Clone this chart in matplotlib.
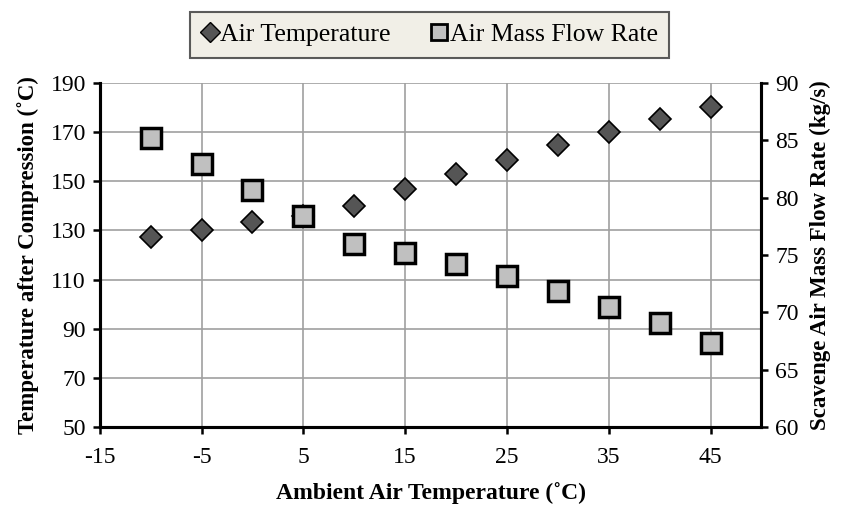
import matplotlib.pyplot as plt
from matplotlib.lines import Line2D

plt.rcParams['font.family'] = ['Liberation Serif', 'DejaVu Serif']
plt.rcParams['axes.unicode_minus'] = False

# ambient air temperature (°C)
ambient = [-10, -5, 0, 5, 10, 15, 20, 25, 30, 35, 40, 45]
# temperature after compression (°C), left axis
air_temp = [127.3, 130.1, 133.4, 135.9, 140.0, 146.8, 152.9, 158.8, 164.6, 170.0, 175.2, 180.0]
# scavenge air mass flow rate (kg/s), right axis
mass_flow = [85.2, 82.9, 80.7, 78.4, 76.0, 75.2, 74.2, 73.2, 71.9, 70.5, 69.1, 67.3]

x_ticks = [-15, -5, 5, 15, 25, 35, 45]
left_ticks = list(range(50, 191, 20))
right_ticks = list(range(60, 91, 5))

fig = plt.figure(figsize=(8.46, 5.05), dpi=100)
ax = fig.add_axes([0.118, 0.154, 0.782, 0.682])
ax2 = ax.twinx()

ax.set_xlim(-15, 50)
ax.set_ylim(50, 190)
ax2.set_ylim(60, 90)
ax.set_xticks(x_ticks)
ax.set_yticks(left_ticks)
ax2.set_yticks(right_ticks)

ax.grid(True, color='#a0a0a0', linewidth=1.2)
ax.set_axisbelow(True)

for a in (ax, ax2):
    a.spines['top'].set_visible(False)
    for s in ('left', 'right', 'bottom'):
        a.spines[s].set_linewidth(2.2)
        a.spines[s].set_color('black')
ax.tick_params(axis='both', direction='out', length=5, width=1.8, labelsize=17, pad=5)
ax.tick_params(axis='x', pad=9)
ax2.tick_params(axis='y', direction='out', length=5, width=1.8, labelsize=17, pad=5)

ax.plot(ambient, air_temp, linestyle='none', marker='D', markersize=11,
        markerfacecolor='#555555', markeredgecolor='black', markeredgewidth=1.2, zorder=3)
ax2.plot(ambient, mass_flow, linestyle='none', marker='s', markersize=15,
         markerfacecolor='#c0c0c0', markeredgecolor='black', markeredgewidth=2.5, zorder=3)

ax.set_xlabel('Ambient Air Temperature (˚C)', fontsize=17, fontweight='bold', labelpad=10)
ax.set_ylabel('Temperature after Compression (˚C)', fontsize=16.5, fontweight='bold', labelpad=8)
ax2.set_ylabel('Scavenge Air Mass Flow Rate (kg/s)', fontsize=16.5, fontweight='bold', labelpad=8)

handles = [
    Line2D([], [], linestyle='none', marker='D', markersize=10,
           markerfacecolor='#555555', markeredgecolor='black', markeredgewidth=1),
    Line2D([], [], linestyle='none', marker='s', markersize=12,
           markerfacecolor='#c0c0c0', markeredgecolor='black', markeredgewidth=2),
]
leg = fig.legend(handles, ['Air Temperature', 'Air Mass Flow Rate'], loc='center',
                 bbox_to_anchor=(0.508, 0.931), ncol=2, fontsize=18.5, frameon=True,
                 fancybox=False, handlelength=0.6, handletextpad=0.1, columnspacing=1.6,
                 borderpad=0.45, borderaxespad=0)
leg.get_frame().set_facecolor('#eeece1')
leg.get_frame().set_edgecolor('#333333')
leg.get_frame().set_linewidth(1.5)

plt.savefig('out.png', dpi=100)
